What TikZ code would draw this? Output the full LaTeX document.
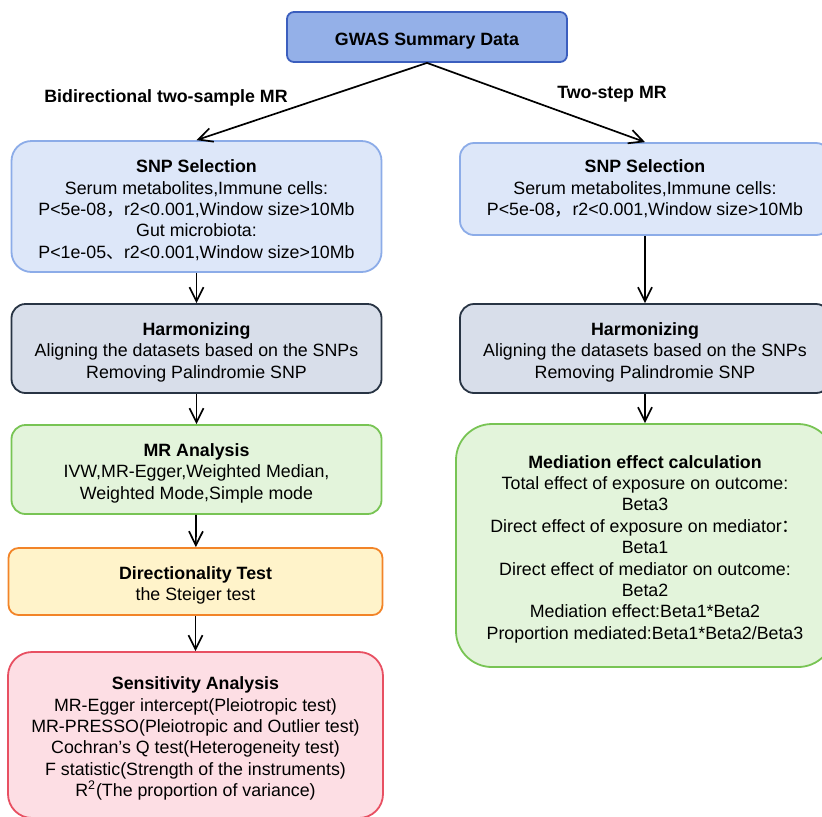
\documentclass[tikz,border=0pt]{standalone}
\usepackage{fontspec}
\setmainfont{Liberation Sans}
\newfontfamily\cjk{Noto Sans CJK SC}
\usepackage{xcolor}
\usepackage{tikz}
\usetikzlibrary{arrows.meta, positioning}

\definecolor{gwasfill}{RGB}{148,176,232}
\definecolor{gwasline}{RGB}{59,94,190}
\definecolor{snpfill}{RGB}{221,231,249}
\definecolor{snpline}{RGB}{140,172,232}
\definecolor{harmfill}{RGB}{216,222,234}
\definecolor{harmline}{RGB}{40,52,68}
\definecolor{mrfill}{RGB}{227,244,219}
\definecolor{mrline}{RGB}{120,196,84}
\definecolor{dirfill}{RGB}{255,243,202}
\definecolor{dirline}{RGB}{242,132,40}
\definecolor{sensfill}{RGB}{253,222,228}
\definecolor{sensline}{RGB}{232,80,98}

% dòng đầu cao hơn một chút để chữ nằm thấp xuống
\newcommand\tstrut{\rule{0pt}{10.1pt}}

\begin{document}
\begin{tikzpicture}[x=0.5pt, y=-0.5pt, >={Straight Barb[length=7pt,width=7pt]},
    font=\fontsize{8.9}{10.7}\selectfont,
    box/.style={draw, line width=0.9pt, align=center, inner sep=0pt, minimum width=185pt},
    flow/.style={->, line width=0.85pt, black}]

    % =================================================================
    % 1. KHUNG HÌNH
    % =================================================================
    \fill[white] (0,0) rectangle (822,816);
    \useasboundingbox (0,0) rectangle (822,816);

    % =================================================================
    % 2. DỮ LIỆU GWAS VÀ HAI NHÁNH
    % =================================================================
    \node[box, fill=gwasfill, draw=gwasline, rounded corners=3.5pt,
        minimum width=140pt, minimum height=25pt] (gwas) at (427,37) {\tstrut\textbf{GWAS Summary Data}};

    \node (lblBi) at (166,98) {\textbf{Bidirectional two-sample MR}};
    \node (lblTwo) at (612,94) {\textbf{Two-step MR}};

    % =================================================================
    % 3. CỘT TRÁI: MR HAI MẪU HAI CHIỀU
    % =================================================================
    \node[box, fill=snpfill, draw=snpline, rounded corners=10pt, minimum height=65.5pt]
        (snpL) at (196.5,206.5) {\tstrut\textbf{SNP Selection}\\
        Serum metabolites,Immune cells:\\
        P<5e-08{\cjk ，}r2<0.001,Window size>10Mb\\
        Gut microbiota:\\
        P<1e-05{\cjk 、}r2<0.001,Window size>10Mb};

    \node[box, fill=harmfill, draw=harmline, rounded corners=7pt, minimum height=44.5pt]
        (harmL) at (196.5,348.5) {\tstrut\textbf{Harmonizing}\\
        Aligning the datasets based on the SNPs\\
        Removing Palindromie SNP};

    \node[box, fill=mrfill, draw=mrline, rounded corners=7pt, minimum height=44.5pt]
        (mrL) at (196.5,469.5) {\tstrut\textbf{MR Analysis}\\
        IVW,MR-Egger,Weighted Median,\\
        Weighted Mode,Simple mode};

    \node[box, fill=dirfill, draw=dirline, rounded corners=5pt, minimum width=187pt, minimum height=33.5pt]
        (dirL) at (195.5,581.5) {\tstrut\textbf{Directionality Test}\\
        the Steiger test};

    \node[box, fill=sensfill, draw=sensline, rounded corners=12pt, minimum width=187.5pt, minimum height=83pt]
        (sensL) at (195.5,735) {\tstrut\textbf{Sensitivity Analysis}\\
        MR-Egger intercept(Pleiotropic test)\\
        MR-PRESSO(Pleiotropic and Outlier test)\\
        Cochran's Q test(Heterogeneity test)\\
        F statistic(Strength of the instruments)\\
        R\textsuperscript{2}(The proportion of variance)};

    % =================================================================
    % 4. CỘT PHẢI: MR HAI BƯỚC
    % =================================================================
    \node[box, fill=snpfill, draw=snpline, rounded corners=7pt, minimum height=46pt]
        (snpR) at (645,189) {\textbf{SNP Selection}\\
        Serum metabolites,Immune cells:\\
        P<5e-08{\cjk ，}r2<0.001,Window size>10Mb};

    \node[box, fill=harmfill, draw=harmline, rounded corners=7pt, minimum height=44.5pt]
        (harmR) at (645,348.5) {\tstrut\textbf{Harmonizing}\\
        Aligning the datasets based on the SNPs\\
        Removing Palindromie SNP};

    \node[box, fill=mrfill, draw=mrline, rounded corners=18pt, minimum width=189pt, minimum height=121.5pt]
        (medR) at (645,545.5) {\tstrut\textbf{Mediation effect calculation}\\
        Total effect of exposure on outcome:\\
        Beta3\\
        Direct effect of exposure on mediator{\cjk ：}\\
        Beta1\\
        Direct effect of mediator on outcome:\\
        Beta2\\
        Mediation effect:Beta1*Beta2\\
        Proportion mediated:Beta1*Beta2/Beta3};

    % =================================================================
    % 5. MŨI TÊN NỐI
    % =================================================================
    \draw[flow] (gwas.south) -- (snpL.north);
    \draw[flow] (gwas.south) -- (snpR.north);

    \draw[flow] (snpL) -- (harmL);
    \draw[flow] (harmL) -- (mrL);
    \draw[flow] (mrL) -- (dirL);
    \draw[flow] (dirL) -- (sensL);

    \draw[flow] (snpR) -- (harmR);
    \draw[flow] (harmR) -- (medR);

\end{tikzpicture}
\end{document}
